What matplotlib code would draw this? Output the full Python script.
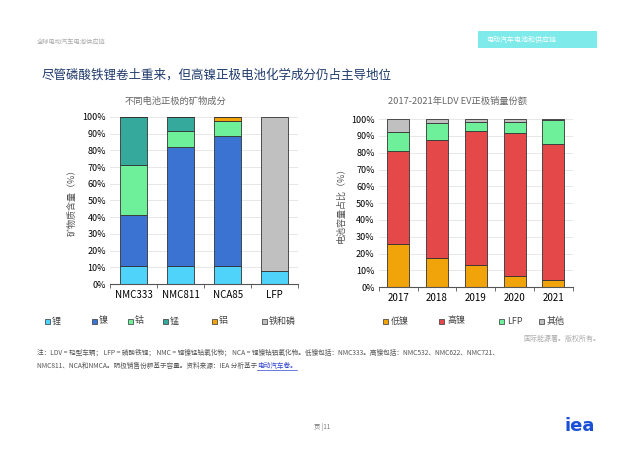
import matplotlib.pyplot as plt
import numpy as np
from matplotlib.patches import Rectangle

plt.rcParams['font.family'] = ['Noto Sans CJK SC', 'DejaVu Sans']

# left chart: mineral content by cathode
chem = ['NMC333', 'NMC811', 'NCA85', 'LFP']
li = [10.5, 10.5, 10.5, 7.5]
ni = [30.5, 71.5, 78.0, 0]
co = [30.5, 9.5, 9.0, 0]
mn = [28.5, 8.5, 0, 0]
al = [0, 0, 2.5, 0]
fep = [0, 0, 0, 92.5]

# right chart: sales share by cathode
years = ['2017', '2018', '2019', '2020', '2021']
low_ni = [25.5, 17.5, 13.5, 6.5, 4.5]
high_ni = [55.5, 70.0, 79.5, 85.0, 80.5]
lfp = [11.5, 10.5, 5.5, 7.0, 14.5]
other = [7.5, 2.0, 1.5, 1.5, 0.5]

left_series = [('锂', li, '#4fd3fb'), ('镍', ni, '#3b73d2'), ('钴', co, '#6ef09a'),
               ('锰', mn, '#35a99b'), ('铝', al, '#f1a30a'), ('铁和磷', fep, '#c0c0c0')]
right_series = [('低镍', low_ni, '#f1a30a'), ('高镍', high_ni, '#e54848'),
                ('LFP', lfp, '#6ef09a'), ('其他', other, '#c0c0c0')]

fig = plt.figure(figsize=(6.4, 4.53), dpi=100)


def fx(px):
    return px / 640


def fy(py):
    return 1 - py / 453


def stacked(ax, cats, series):
    x = np.arange(len(cats))
    bottom = np.zeros(len(cats))
    for name, vals, col in series:
        v = np.array(vals) / 100
        ax.bar(x, v, 0.57, bottom=bottom, color=col, edgecolor='#333333', linewidth=0.6)
        bottom += v
    ax.set_xlim(-0.5, len(cats) - 0.5)
    ax.set_ylim(0, 1.0)
    ticks = np.arange(0, 1.01, 0.1)
    ax.set_yticks(ticks)
    ax.set_yticklabels([f'{int(round(t * 100))}%' for t in ticks], fontsize=6.5)
    ax.set_xticks(x)
    ax.set_xticklabels(cats, fontsize=7)
    ax.set_xticks(np.arange(-0.5, len(cats)), minor=True)
    ax.tick_params(axis='x', which='major', length=0, pad=4)
    ax.tick_params(axis='x', which='minor', length=3, color='#555555')
    ax.tick_params(axis='y', length=0, pad=3)
    ax.grid(axis='y', color='#e3e3e3', linewidth=0.6)
    ax.set_axisbelow(True)
    for s in ['top', 'right', 'left']:
        ax.spines[s].set_visible(False)
    ax.spines['bottom'].set_color('#555555')
    ax.spines['bottom'].set_linewidth(0.8)


ax1 = fig.add_axes([0.172, 0.373, 0.294, 0.369])
stacked(ax1, chem, left_series)
ax1.set_ylabel('矿物质含量（%）', fontsize=6.5, color='#555555', labelpad=4)
fig.text(fx(175), fy(101), '不同电池正极的矿物成分', fontsize=6.7, color='#666666', ha='center', va='center')

ax2 = fig.add_axes([0.592, 0.366, 0.303, 0.371])
stacked(ax2, years, right_series)
ax2.set_ylabel('电池容量占比（%）', fontsize=6.5, color='#555555', labelpad=4)
fig.text(fx(457), fy(101), '2017-2021年LDV EV正极销量份额', fontsize=6.7, color='#666666',
         ha='center', va='center')

# legends
left_pos = [45, 92, 128, 163, 212, 262]
for (name, vals, col), px in zip(left_series, left_pos):
    fig.patches.append(Rectangle((fx(px), fy(324)), 5 / 640, 5 / 453, transform=fig.transFigure,
                                 facecolor=col, edgecolor='#333333', linewidth=0.5))
    fig.text(fx(px + 7), fy(321), name, fontsize=6.5, color='#444444', va='center')
right_pos = [383, 439, 499, 539]
for (name, vals, col), px in zip(right_series, right_pos):
    fig.patches.append(Rectangle((fx(px), fy(324)), 5 / 640, 5 / 453, transform=fig.transFigure,
                                 facecolor=col, edgecolor='#333333', linewidth=0.5))
    fig.text(fx(px + 8), fy(321), name, fontsize=6.5, color='#444444', va='center')

# header
fig.text(fx(37), fy(43), '全球电动汽车电池供应链', fontsize=4.5, color='#aaaaaa', va='center')
fig.patches.append(Rectangle((fx(478), fy(48)), 119 / 640, 17 / 453, transform=fig.transFigure,
                             facecolor='#7eeaea', edgecolor='none'))
fig.text(fx(486), fy(40), '电动汽车电池和供应链', fontsize=5, color='white', va='center')
fig.text(fx(42), fy(75), '尽管磷酸铁锂卷土重来，但高镍正极电池化学成分仍占主导地位',
         fontsize=9, color='#1f3a6b', va='center')

# footer notes
fig.text(fx(600), fy(339), '国际能源署。版权所有。', fontsize=5, color='#aaaaaa', ha='right', va='center')
fig.text(fx(37), fy(353),
         '注：LDV = 轻型车辆； LFP = 磷酸铁锂； NMC = 锂镍锰钴氧化物； NCA = 锂镍钴铝氧化物。低镍包括：NMC333。高镍包括：NMC532、NMC622、NMC721、',
         fontsize=4.8, color='#555555', va='center')
t = fig.text(fx(37), fy(366), 'NMC811、NCA和NMCA。阴极销售份额基于容量。资料来源：IEA 分析基于',
             fontsize=4.8, color='#555555', va='center')
renderer = fig.canvas.get_renderer()
x_end = t.get_window_extent(renderer).x1 / fig.bbox.width
link = fig.text(x_end, fy(366), '电动汽车卷。', fontsize=4.8, color='#3344cc', va='center')
x_link_end = link.get_window_extent(renderer).x1 / fig.bbox.width
fig.lines.append(plt.Line2D([x_end, x_link_end], [fy(370), fy(370)],
                            transform=fig.transFigure, color='#3344cc', linewidth=0.5))

fig.text(fx(322), fy(427), '页 |11', fontsize=4.5, color='#777777', ha='center', va='center')
fig.text(fx(580), fy(426), 'iea', fontsize=13, color='#1a50d8', fontweight='bold',
         ha='center', va='center', family='DejaVu Sans')

fig.savefig('out.png', dpi=100)
